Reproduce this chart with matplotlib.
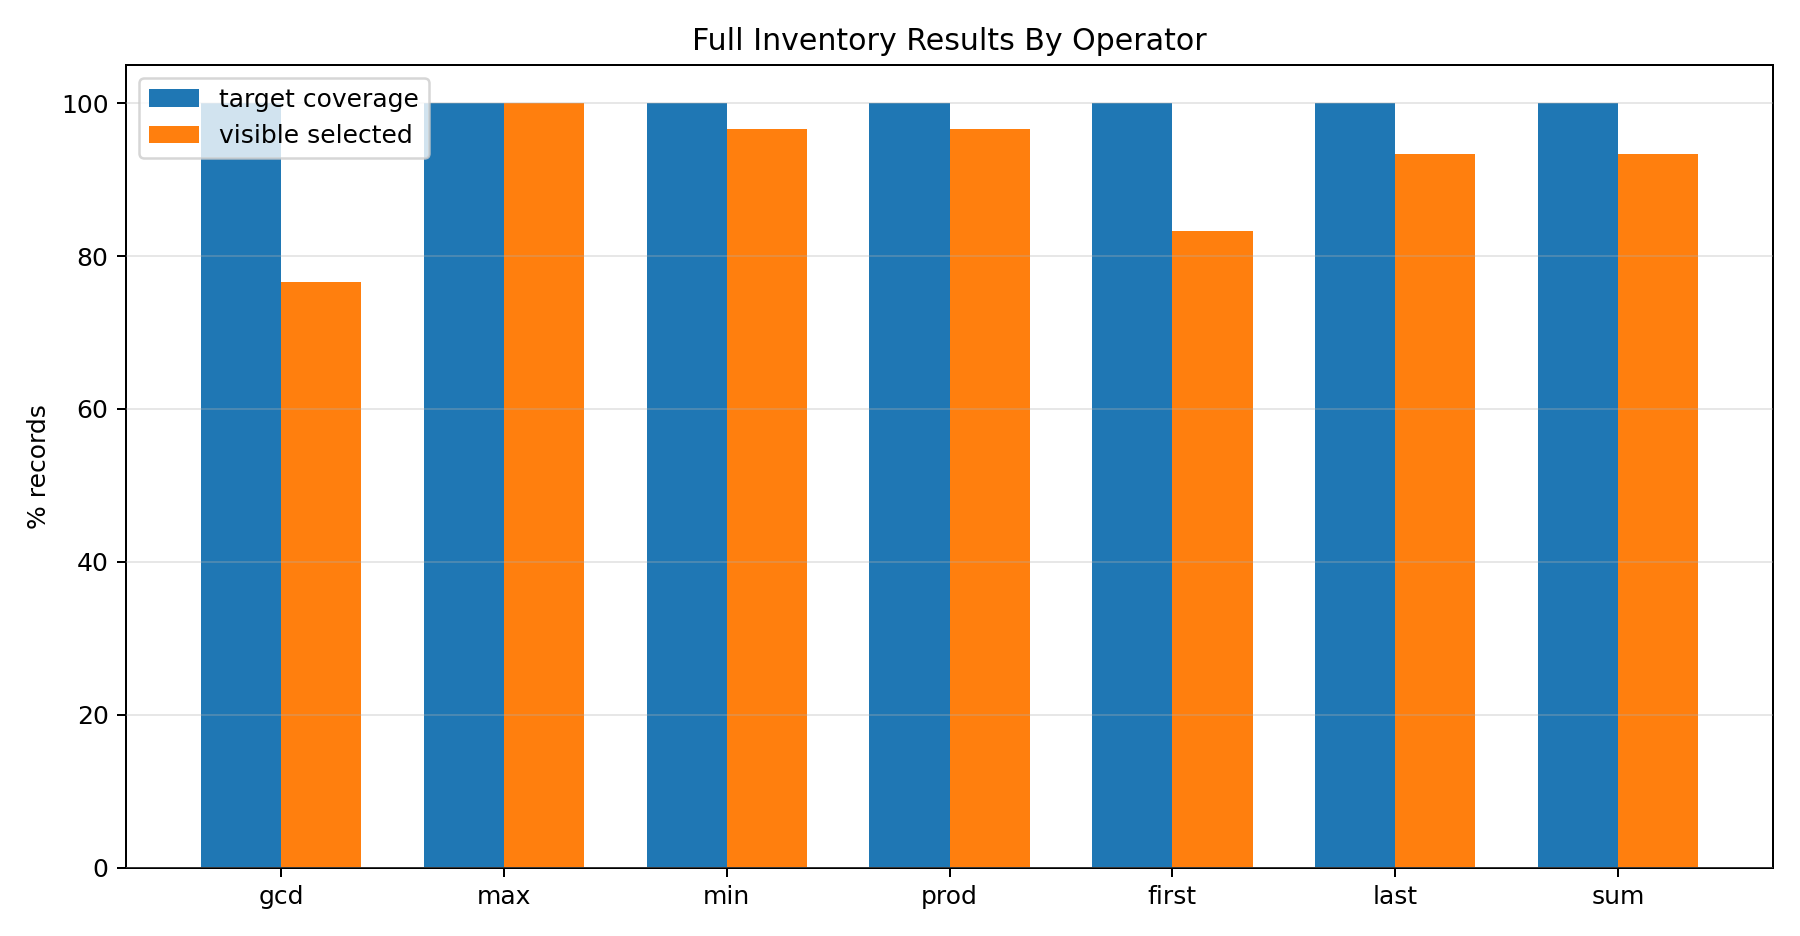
import matplotlib
matplotlib.use("Agg")
import matplotlib.pyplot as plt
import numpy as np

# operators and their percentages
operators = ['gcd', 'max', 'min', 'prod', 'first', 'last', 'sum']
target_coverage = [100.0, 100.0, 100.0, 100.0, 100.0, 100.0, 100.0]
visible_selected = [76.67, 100.0, 96.67, 96.67, 83.33, 93.33, 93.33]

x = np.arange(len(operators))
w = 0.36

fig, ax = plt.subplots(figsize=(10, 5.2), dpi=180)
ax.bar(x - w / 2, target_coverage, w, label='target coverage', color='#1f77b4')
ax.bar(x + w / 2, visible_selected, w, label='visible selected', color='#ff7f0e')

ax.set_xticks(x)
ax.set_xticklabels(operators)
ax.set_ylabel('% records')
ax.set_title('Full Inventory Results By Operator')
ax.grid(True, axis='y', alpha=0.3)
ax.set_axisbelow(False)
ax.legend(loc='upper left')

fig.tight_layout()
fig.savefig('out.png', dpi=180)
